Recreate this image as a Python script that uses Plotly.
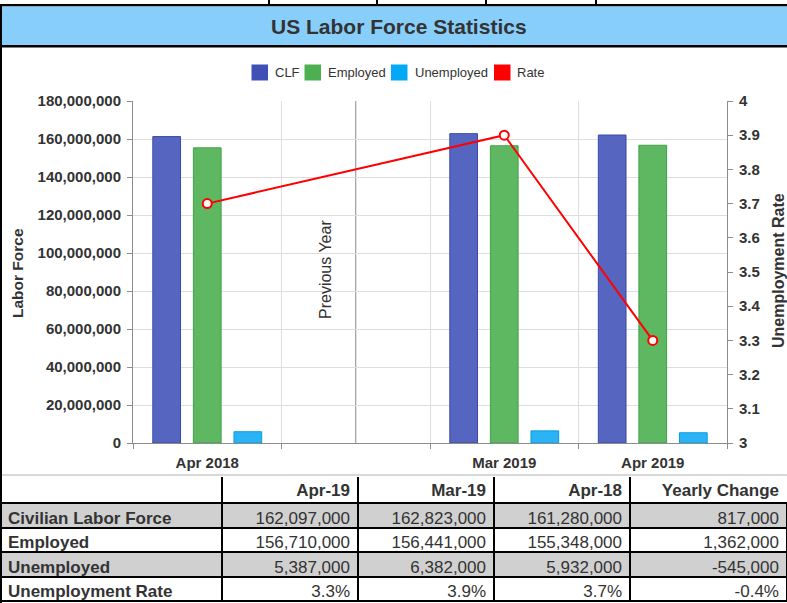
import plotly.graph_objects as go

# ---------------- data ----------------
x_categories = ["Apr 2018", "Previous Year", "Mar 2019", "Apr 2019"]
x_ticktext = ["Apr 2018", "", "Mar 2019", "Apr 2019"]
series_names = ["CLF", "Employed", "Unemployed", "Rate"]
clf = [161280000, None, 162823000, 162097000]
employed = [155348000, None, 156441000, 156710000]
unemployed = [5932000, None, 6382000, 5387000]
rate = [3.7, None, 3.9, 3.3]

table_header = ["", "Apr-19", "Mar-19", "Apr-18", "Yearly Change"]
table_rows = ["Civilian Labor Force", "Employed", "Unemployed", "Unemployment Rate"]
col_apr19 = ["162,097,000", "156,710,000", "5,387,000", "3.3%"]
col_mar19 = ["162,823,000", "156,441,000", "6,382,000", "3.9%"]
col_apr18 = ["161,280,000", "155,348,000", "5,932,000", "3.7%"]
col_change = ["817,000", "1,362,000", "-545,000", "-0.4%"]

# ---------------- styling ----------------
W, H = 787, 603
FONT = "Liberation Sans"
TXT = "#333333"
bar_fill = ["#5666C0", "#5EB862", "#2BB4F5"]
bar_line = ["#3A4AA8", "#43A047", "#0A9BE0"]
legend_colors = ["#3F51B5", "#4CAF50", "#03A9F4", "#FF0000"]
NBSP = "\u00a0"
col_widths = [222, 136, 136, 136, 157]


def fx(p):
    return p / W


def fy(p):
    return 1 - p / H


def nb(s):
    return s.replace(" ", NBSP)


PL, PR, PT, PB = 133, 727, 101, 443
TABLE_TOP, HEADER_H, ROW_H = 475, 28, 24.5
HEADER_RULE_TOP = 477

fig = go.Figure()
for i, (name, vals) in enumerate(zip(series_names[:3], [clf, employed, unemployed])):
    fig.add_trace(go.Bar(
        x=x_categories, y=vals, name=name, showlegend=False,
        marker=dict(color=bar_fill[i], line=dict(color=bar_line[i], width=1)),
        yaxis="y"))

fig.add_trace(go.Scatter(
    x=x_categories, y=rate, name=series_names[3], showlegend=False,
    mode="lines+markers", connectgaps=True, yaxis="y2",
    line=dict(color="#FF0000", width=2),
    marker=dict(size=9, color="white", line=dict(color="#FF0000", width=2))))

fig.add_trace(go.Table(
    domain=dict(x=[0, 1], y=[0, fy(TABLE_TOP)]),
    columnwidth=col_widths,
    header=dict(
        values=[nb(h) for h in table_header],
        fill_color="rgba(0,0,0,0)",
        line=dict(color="rgba(0,0,0,0)", width=2),
        align=["left", "right", "right", "right", "right"],
        font=dict(family=FONT, size=17, color=TXT, weight="bold"),
        height=HEADER_H),
    cells=dict(
        values=[[nb(r) for r in table_rows], col_apr19, col_mar19, col_apr18, col_change],
        fill_color=[["#D0D0D0", "white", "#D0D0D0", "white"]] * 5,
        line=dict(color="black", width=2),
        align=["left", "right", "right", "right", "right"],
        font=dict(family=FONT, size=17, color=TXT,
                  weight=["bold", "normal", "normal", "normal", "normal"]),
        height=ROW_H)))

shapes = []
# top strip + title bar
shapes.append(dict(type="rect", xref="paper", yref="paper", x0=0, x1=1, y0=fy(4), y1=fy(6.5),
                   fillcolor="black", line=dict(width=0), layer="above"))
shapes.append(dict(type="rect", xref="paper", yref="paper", x0=0, x1=1, y0=fy(6.5), y1=fy(45),
                   fillcolor="#87CEFA", line=dict(width=0), layer="above"))
shapes.append(dict(type="rect", xref="paper", yref="paper", x0=0, x1=1, y0=fy(45), y1=fy(47.5),
                   fillcolor="black", line=dict(width=0), layer="above"))
for vx in [269, 377, 486, 596]:
    shapes.append(dict(type="line", xref="paper", yref="paper", x0=fx(vx), x1=fx(vx), y0=1, y1=fy(4),
                       line=dict(color="black", width=2), layer="above"))
# left outer border
shapes.append(dict(type="rect", xref="paper", yref="paper", x0=0, x1=fx(2), y0=0, y1=fy(4),
                   fillcolor="black", line=dict(width=0), layer="above"))
# chart bottom light line
shapes.append(dict(type="line", xref="paper", yref="paper", x0=0, x1=1, y0=fy(475), y1=fy(475),
                   line=dict(color="#D8D8D8", width=2), layer="below"))
# header column separators (table header has no top rule)
acc = 0
for w in col_widths[:-1]:
    acc += w
    shapes.append(dict(type="line", xref="paper", yref="paper", x0=fx(acc), x1=fx(acc),
                       y0=fy(HEADER_RULE_TOP), y1=fy(TABLE_TOP + HEADER_H),
                       line=dict(color="black", width=2), layer="below"))
# divider in "Previous Year" column
shapes.append(dict(type="line", xref="x", yref="paper", x0=1, x1=1, y0=fy(PB), y1=fy(PT),
                   line=dict(color="#8A8A8A", width=1), layer="below"))
# legend swatches
sw_x = [251.5, 304.5, 391, 494]
txt_x = [273.3, 326, 412.7, 515]
for c, sx in zip(legend_colors, sw_x):
    shapes.append(dict(type="rect", xref="paper", yref="paper", x0=fx(sx), x1=fx(sx + 16.5),
                       y0=fy(64.5), y1=fy(80.5), fillcolor=c, line=dict(width=0)))

annotations = []
annotations.append(dict(text="<b>US Labor Force Statistics</b>", xref="paper", yref="paper",
                        x=fx(398.5), y=fy(26), xanchor="center", yanchor="middle", showarrow=False,
                        font=dict(family=FONT, size=21, color=TXT)))
for name, tx in zip(series_names, txt_x):
    annotations.append(dict(text=name, xref="paper", yref="paper", x=fx(tx), y=fy(72.5),
                            xanchor="left", yanchor="middle", showarrow=False,
                            font=dict(family=FONT, size=13, color=TXT)))
annotations.append(dict(text="Previous Year", xref="paper", yref="paper", x=fx(325), y=fy(270),
                        xanchor="center", yanchor="middle",
                        textangle=-90, showarrow=False, font=dict(family=FONT, size=16, color=TXT)))
annotations.append(dict(text="<b>Labor Force</b>", xref="paper", yref="paper", x=fx(17), y=fy(273),
                        xanchor="center", yanchor="middle",
                        textangle=-90, showarrow=False, font=dict(family=FONT, size=15.5, color=TXT)))
annotations.append(dict(text="<b>Unemployment Rate</b>", xref="paper", yref="paper", x=fx(778), y=fy(271),
                        xanchor="center", yanchor="middle",
                        textangle=-90, showarrow=False, font=dict(family=FONT, size=16, color=TXT)))

axis_line = "#8C8C8C"
grid = "#DEDEDE"
fig.update_layout(
    width=W, height=H,
    margin=dict(l=0, r=0, t=0, b=0),
    paper_bgcolor="white", plot_bgcolor="white",
    font=dict(family=FONT, color=TXT),
    barmode="group", bargap=0.18, bargroupgap=0.317,
    showlegend=False,
    xaxis=dict(domain=[fx(PL), fx(PR)], type="category",
               categoryorder="array", categoryarray=x_categories,
               tickmode="array", tickvals=x_categories, ticktext=x_ticktext,
               tickson="boundaries", ticks="outside", ticklen=5, tickcolor=axis_line,
               showgrid=True, gridcolor=grid, gridwidth=1,
               showline=True, linecolor=axis_line, linewidth=1,
               tickfont=dict(family=FONT, size=15, color=TXT, weight="bold"),
               ticklabelstandoff=6, automargin=False, fixedrange=True),
    yaxis=dict(domain=[fy(PB), fy(PT)], range=[0, 180000000], dtick=20000000,
               tickformat=",", ticks="outside", ticklen=5, tickcolor=axis_line,
               showgrid=True, gridcolor=grid, gridwidth=1, zeroline=False,
               showline=True, linecolor=axis_line, linewidth=1,
               tickfont=dict(family=FONT, size=15, color=TXT, weight="bold"),
               ticklabelstandoff=3, automargin=False, fixedrange=True),
    yaxis2=dict(overlaying="y", side="right", anchor="x", range=[3, 4], dtick=0.1,
                ticks="outside", ticklen=5, tickcolor=axis_line,
                showgrid=False, zeroline=False,
                showline=True, linecolor=axis_line, linewidth=1,
                tickfont=dict(family=FONT, size=15, color=TXT, weight="bold"),
                ticklabelstandoff=3, automargin=False, fixedrange=True),
    shapes=shapes,
    annotations=annotations,
)

fig.write_html("out.html", config={"displayModeBar": False},
               post_script="document.body.style.margin='0px';document.body.style.overflow='hidden';")
